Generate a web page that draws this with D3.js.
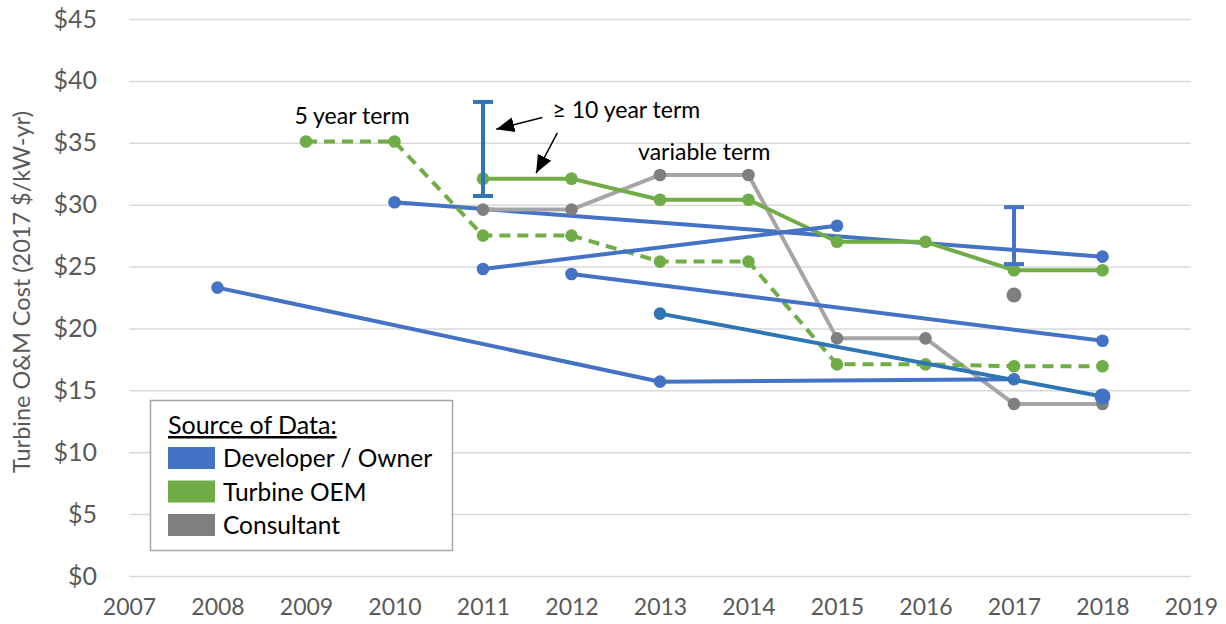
<!DOCTYPE html>
<meta charset="utf-8">
<html lang="en">
<head>
	<meta charset="utf-8">
	<title>Turbine O&amp;M Cost</title>
	<script type="text/javascript" src="https://cdn.jsdelivr.net/npm/d3@7"></script>
	<style type="text/css">
		body { margin: 0; background: #fff; }
		text { font-family: Lato, "Open Sans", sans-serif; }
	</style>
</head>
<body>
	<script type="text/javascript">
// DATA
		var yearTicks = [2007, 2008, 2009, 2010, 2011, 2012, 2013, 2014, 2015, 2016, 2017, 2018, 2019];
		var costTicks = [0, 5, 10, 15, 20, 25, 30, 35, 40, 45];

		// Developer / Owner
		var devAYears = [2008, 2013, 2017];
		var devAVals  = [23.3, 15.7, 15.9];
		var devBYears = [2010, 2018];
		var devBVals  = [30.2, 25.8];
		var devCYears = [2011, 2015];
		var devCVals  = [24.8, 28.3];
		var devDYears = [2012, 2018];
		var devDVals  = [24.4, 19.0];
		var devEYears = [2013, 2018];
		var devEVals  = [21.2, 14.5];

		// Turbine OEM
		var oemLongYears = [2011, 2012, 2013, 2014, 2015, 2016, 2017, 2018];
		var oemLongVals  = [32.1, 32.1, 30.4, 30.4, 27.0, 27.0, 24.7, 24.7];
		var oemShortYears = [2009, 2010, 2011, 2012, 2013, 2014, 2015, 2016, 2017, 2018];
		var oemShortVals  = [35.1, 35.1, 27.5, 27.5, 25.4, 25.4, 17.1, 17.1, 16.95, 16.95];

		// Consultant
		var consYears = [2011, 2012, 2013, 2014, 2015, 2016, 2017, 2018];
		var consVals  = [29.6, 29.6, 32.4, 32.4, 19.2, 19.2, 13.9, 13.9];
		var consSingleYear = 2017;
		var consSingleVal  = 22.7;

		// ranges (error bars)
		var rangeYears = [2011, 2017];
		var rangeLow   = [30.7, 25.2];
		var rangeHigh  = [38.3, 29.8];

		var legendNames = ["Developer / Owner", "Turbine OEM", "Consultant"];

// SIZES / COLOURS
		var w = 1226;
		var h = 624;
		var blue = "#4472C4", blue2 = "#2E75B6", green = "#70AD47", grayLine = "#A5A5A5", grayDot = "#7F7F7F";
		var axisColor = "#595959";

		var svg = d3.select("body")
			.append("svg")
			.attr("width", w)
			.attr("height", h);

		var x = d3.scaleLinear().domain([2007, 2019]).range([129, 1191]);
		var y = d3.scaleLinear().domain([0, 45]).range([576, 19]);

// GRID + AXES
		var yAxis = d3.axisLeft(y)
			.tickValues(costTicks)
			.tickSize(-(1191 - 129))
			.tickPadding(32)
			.tickFormat(function(d) { return "$" + d; });

		var gy = svg.append("g")
			.attr("transform", "translate(129,0)")
			.call(yAxis);
		gy.select(".domain").remove();
		gy.selectAll("line").attr("stroke", "#D9D9D9").attr("stroke-width", 1.5);
		gy.selectAll("text").attr("fill", axisColor).attr("font-size", "25px");

		var xAxis = d3.axisBottom(x)
			.tickValues(yearTicks)
			.tickSize(0)
			.tickPadding(23)
			.tickFormat(d3.format("d"));

		var gx = svg.append("g")
			.attr("transform", "translate(0,576)")
			.call(xAxis);
		gx.select(".domain").remove();
		gx.selectAll("text").attr("fill", axisColor).attr("font-size", "23px");

		svg.append("text")
			.attr("transform", "translate(30,292) rotate(-90)")
			.attr("text-anchor", "middle")
			.attr("fill", axisColor)
			.attr("font-size", "23.5px")
			.text("Turbine O&M Cost (2017 $/kW-yr)");

// LINES
		var line = d3.line()
			.x(function(d) { return x(d[0]); })
			.y(function(d) { return y(d[1]); });

		function drawSeries(years, vals, lineColor, dotColor, dash) {
			var pts = d3.zip(years, vals);
			svg.append("path")
				.datum(pts)
				.attr("d", line)
				.attr("fill", "none")
				.attr("stroke", lineColor)
				.attr("stroke-width", 4)
				.attr("stroke-linejoin", "round")
				.attr("stroke-dasharray", dash || null);
			svg.append("g").selectAll("circle")
				.data(pts)
				.enter()
				.append("circle")
				.attr("cx", function(d) { return x(d[0]); })
				.attr("cy", function(d) { return y(d[1]); })
				.attr("r", 6.3)
				.attr("fill", dotColor);
		}

		drawSeries(devBYears, devBVals, blue, blue);
		drawSeries(consYears, consVals, grayLine, grayDot);
		drawSeries(oemShortYears, oemShortVals, green, green, "11,7");
		drawSeries(oemLongYears, oemLongVals, green, green);
		drawSeries(devAYears, devAVals, blue, blue);
		drawSeries(devCYears, devCVals, blue, blue);
		drawSeries(devDYears, devDVals, blue, blue);
		drawSeries(devEYears, devEVals, blue2, blue2);

		// bigger end marker on the last developer series
		svg.append("circle")
			.attr("cx", x(devEYears[1]))
			.attr("cy", y(devEVals[1]))
			.attr("r", 8)
			.attr("fill", blue);

		svg.append("circle")
			.attr("cx", x(consSingleYear))
			.attr("cy", y(consSingleVal))
			.attr("r", 7.5)
			.attr("fill", grayDot);

// RANGE BARS
		var rangeG = svg.append("g").selectAll("g")
			.data(d3.zip(rangeYears, rangeLow, rangeHigh))
			.enter()
			.append("g")
			.attr("stroke", function(d, i) { return i === 0 ? blue2 : blue; })
			.attr("stroke-width", 4);
		rangeG.append("line")
			.attr("x1", function(d) { return x(d[0]); })
			.attr("x2", function(d) { return x(d[0]); })
			.attr("y1", function(d) { return y(d[1]); })
			.attr("y2", function(d) { return y(d[2]); });
		rangeG.append("line")
			.attr("x1", function(d) { return x(d[0]) - 10; })
			.attr("x2", function(d) { return x(d[0]) + 10; })
			.attr("y1", function(d) { return y(d[1]); })
			.attr("y2", function(d) { return y(d[1]); });
		rangeG.append("line")
			.attr("x1", function(d) { return x(d[0]) - 10; })
			.attr("x2", function(d) { return x(d[0]) + 10; })
			.attr("y1", function(d) { return y(d[2]); })
			.attr("y2", function(d) { return y(d[2]); });

// ANNOTATIONS
		svg.append("defs").append("marker")
			.attr("id", "arrow")
			.attr("viewBox", "0 0 12 10")
			.attr("refX", 12)
			.attr("refY", 5)
			.attr("markerWidth", 12)
			.attr("markerHeight", 10)
			.attr("markerUnits", "strokeWidth")
			.attr("orient", "auto")
			.append("path")
			.attr("d", "M0,0 L12,5 L0,10 Z")
			.attr("fill", "#000");

		var notes = [
			{ t: "5 year term", yr: 2009.52, v: 36.5 },
			{ t: "\u2265 10 year term", yr: 2012.62, v: 37.0 },
			{ t: "variable term", yr: 2013.5, v: 33.6 }
		];
		svg.selectAll("text.note")
			.data(notes)
			.enter()
			.append("text")
			.attr("class", "note")
			.attr("x", function(d) { return x(d.yr); })
			.attr("y", function(d) { return y(d.v); })
			.attr("text-anchor", "middle")
			.attr("font-size", "23px")
			.attr("fill", "#000")
			.text(function(d) { return d.t; });

		var arrows = [
			[[2011.67, 37.05], [2011.15, 36.1]],
			[[2011.84, 35.8], [2011.6, 32.55]]
		];
		svg.selectAll("line.arrow")
			.data(arrows)
			.enter()
			.append("line")
			.attr("class", "arrow")
			.attr("x1", function(d) { return x(d[0][0]); })
			.attr("y1", function(d) { return y(d[0][1]); })
			.attr("x2", function(d) { return x(d[1][0]); })
			.attr("y2", function(d) { return y(d[1][1]); })
			.attr("stroke", "#000")
			.attr("stroke-width", 1.5)
			.attr("marker-end", "url(#arrow)");

// LEGEND
		var leg = svg.append("g").attr("transform", "translate(150,400)");
		leg.append("rect")
			.attr("x", 0.5).attr("y", 0.5)
			.attr("width", 302).attr("height", 150)
			.attr("fill", "#fff")
			.attr("stroke", "#A6A6A6")
			.attr("stroke-width", 1.5);
		leg.append("text")
			.attr("x", 18).attr("y", 34)
			.attr("font-size", "25px")
			.attr("fill", "#000")
			.attr("text-decoration", "underline")
			.text("Source of Data:");
		var legColors = [blue, green, grayDot];
		var items = leg.selectAll("g.item")
			.data(legendNames)
			.enter()
			.append("g")
			.attr("class", "item")
			.attr("transform", function(d, i) { return "translate(18," + (47 + i * 33.5) + ")"; });
		items.append("rect")
			.attr("width", 47).attr("height", 22)
			.attr("fill", function(d, i) { return legColors[i]; });
		items.append("text")
			.attr("x", 55).attr("y", 20)
			.attr("font-size", "24.5px")
			.attr("fill", "#000")
			.text(function(d) { return d; });
	</script>
</body>
</html>
